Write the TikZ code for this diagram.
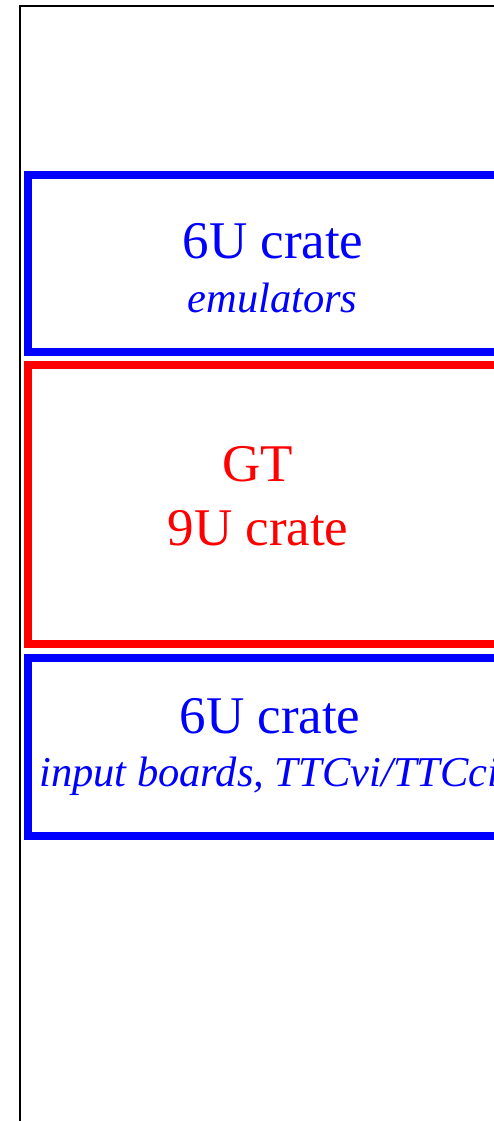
\documentclass[tikz,border=0pt]{standalone}
\usepackage{fontspec}
\setmainfont{Liberation Serif}
\definecolor{pureblue}{RGB}{0,0,255}
\definecolor{purered}{RGB}{255,0,0}
\begin{document}
\begin{tikzpicture}[x=1pt,y=-1pt,
  frameline/.style={draw=black,line width=2pt},
  crate/.style={draw,line width=8pt,rectangle,inner sep=0pt,outer sep=0pt,anchor=north west},
  bigtext/.style={font=\fontsize{53}{60}\selectfont,inner sep=0pt},
  smalltext/.style={font=\fontsize{42.5}{50}\selectfont\itshape,inner sep=0pt}]
\useasboundingbox (0,0) rectangle (494,1121);
\clip (0,0) rectangle (494,1121);
\fill[white] (0,0) rectangle (494,1121);
\coordinate (fb) at (20,1200);
\coordinate (ftl) at (20,6);
\coordinate (fr) at (620,6);
\draw[frameline] (fb) -- (ftl) -- (fr);
% boxes
\node[crate,draw=pureblue,minimum width=592pt,minimum height=177.5pt] (emu) at (28,174.5) {};
\node[crate,draw=purered,minimum width=592pt,minimum height=279.5pt] (gt) at (28,364.5) {};
\node[crate,draw=pureblue,minimum width=592pt,minimum height=178pt] (inp) at (28,658) {};
% texts
\node[bigtext,text=pureblue,anchor=base] (t1) at (273,258) {6U crate};
\node[smalltext,text=pureblue,anchor=base] (t2) at (272.5,312) {emulators};
\node[bigtext,text=purered,anchor=base] (t3) at (258,481) {GT};
\node[bigtext,text=purered,anchor=base] (t4) at (258,545) {9U crate};
\node[bigtext,text=pureblue,anchor=base] (t5) at (270,733) {6U crate};
\node[smalltext,text=pureblue,anchor=base west] (t6) at (39,786) {input boards, TTCvi/TTCci};
\end{tikzpicture}
\end{document}
